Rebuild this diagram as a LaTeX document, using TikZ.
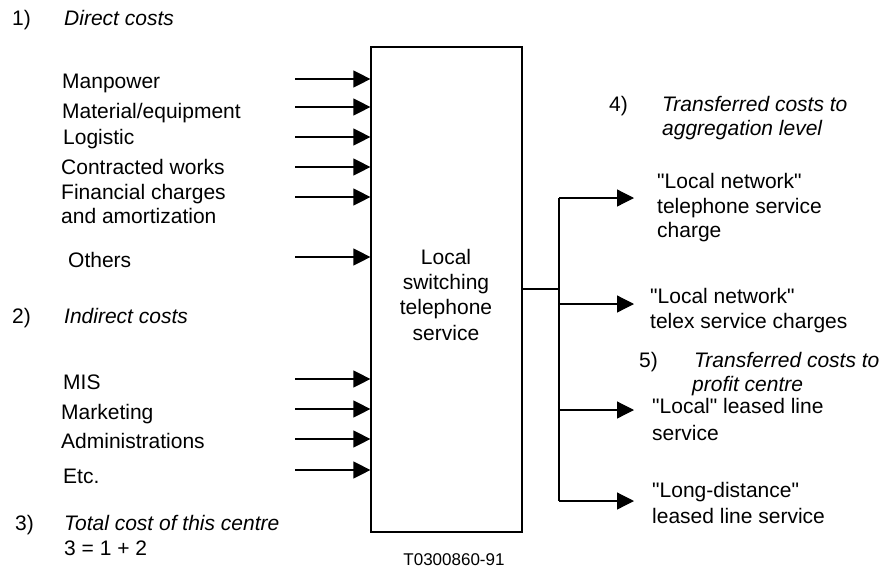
\documentclass[tikz,border=0pt]{standalone}
\usepackage{fontspec}
\setmainfont{Liberation Sans}
\usetikzlibrary{arrows.meta}
\begin{document}
\begin{tikzpicture}[x=1pt,y=-1pt,
  lbl/.style={anchor=base west,inner sep=0pt,font=\fontsize{21}{25}\selectfont},
  ital/.style={lbl,font=\fontsize{21}{25}\selectfont\itshape},
  ln/.style={line width=1.2pt},
  arr/.style={ln,-{Triangle[length=17pt,width=17pt]}}]
\useasboundingbox[fill=white] (0,0) rectangle (885,568);
% main box
\node[draw,ln,minimum width=151pt,minimum height=485pt,inner sep=0pt] (box) at (446.5,289.5) {};
\node[anchor=base,inner sep=0pt,align=center,font=\fontsize{21}{25.3}\selectfont] (boxtext) at (446,340) {Local\\switching\\telephone\\service};
% section headings
\node[lbl] (n1) at (12,25) {1)};
\node[ital] (h1) at (64,25) {Direct costs};
\node[lbl] (n2) at (12,323) {2)};
\node[ital] (h2) at (64,323) {Indirect costs};
\node[lbl] (n3) at (15,530) {3)};
\node[ital] (h3) at (64,530) {Total cost of this centre};
\node[lbl] (eq) at (64,555) {3 = 1 + 2};
% input labels
\node[lbl] (l1) at (62,88) {Manpower};
\node[lbl] (l2) at (62,118) {Material/equipment};
\node[lbl] (l3) at (63,144) {Logistic};
\node[lbl] (l4) at (61,174) {Contracted works};
\node[lbl] (l5) at (61,199) {Financial charges};
\node[lbl] (l5b) at (61,223) {and amortization};
\node[lbl] (l6) at (68,267) {Others};
\node[lbl] (l7) at (63,389) {MIS};
\node[lbl] (l8) at (61,419) {Marketing};
\node[lbl] (l9) at (61,448) {Administrations};
\node[lbl] (l10) at (63,483) {Etc.};
% input arrows
\foreach \i/\y in {1/79,2/107,3/137,4/167,5/197,6/257,7/379,8/409,9/439,10/470}{
  \coordinate (s\i) at (295,\y);
  \draw[arr] (s\i) -- (s\i -| box.west);
}
% output
\coordinate (j) at (559,289);
\coordinate (jt) at (559,198);
\coordinate (jb) at (559,501);
\draw[ln] (box.east |- j) -- (j);
\draw[ln] (jt) -- (jb);
\foreach \i/\y in {1/198,2/304,3/410,4/501}{
  \coordinate (e\i) at (634,\y);
  \draw[arr] (jt |- e\i) -- (e\i);
}
% output labels
\node[lbl] (n4) at (609,111) {4)};
\node[ital] (h4) at (662,111) {Transferred costs to};
\node[ital] (h4b) at (662,135) {aggregation level};
\node[lbl] (o1) at (657,188) {\textquotedbl Local network\textquotedbl};
\node[lbl] (o1b) at (657,213) {telephone service};
\node[lbl] (o1c) at (657,237) {charge};
\node[lbl] (o2) at (650,303) {\textquotedbl Local network\textquotedbl};
\node[lbl] (o2b) at (650,328) {telex service charges};
\node[lbl] (n5) at (639,367) {5)};
\node[ital] (h5) at (694,367) {Transferred costs to};
\node[ital] (h5b) at (692,391) {profit centre};
\node[lbl] (o3) at (652,413) {\textquotedbl Local\textquotedbl{} leased line};
\node[lbl] (o3b) at (652,440) {service};
\node[lbl] (o4) at (652,497) {\textquotedbl Long-distance\textquotedbl};
\node[lbl] (o4b) at (652,523) {leased line service};
\node[anchor=base,inner sep=0pt,font=\fontsize{17}{20}\selectfont] (tag) at (454,565) {T0300860-91};
\end{tikzpicture}
\end{document}
